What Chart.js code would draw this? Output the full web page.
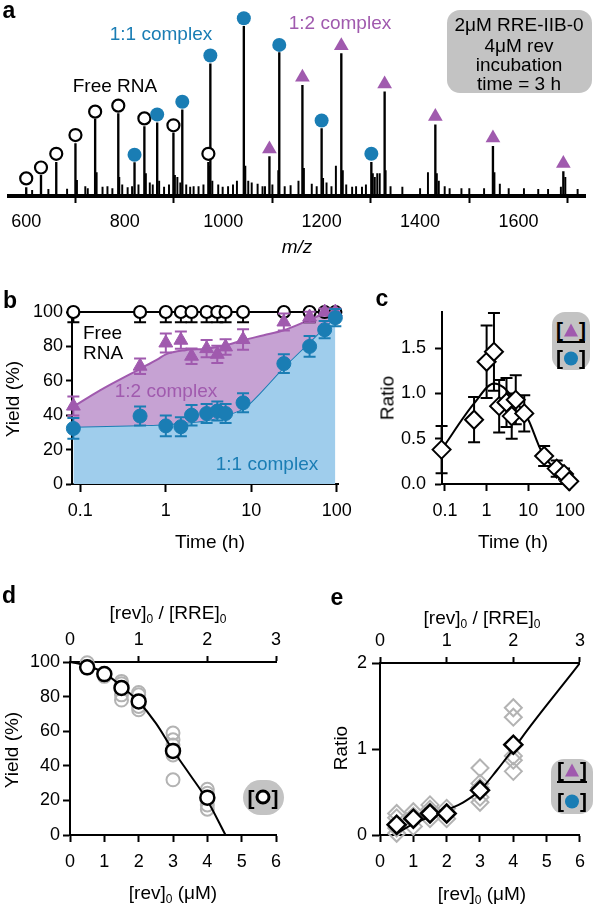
<!DOCTYPE html>
<html>
<head>
<meta charset="utf-8">
<script src="https://cdn.jsdelivr.net/npm/chart.js@4.4.0/dist/chart.umd.min.js"></script>
<style>
  body { margin: 0; background: #fff; width: 594px; height: 904px; position: relative; overflow: hidden;
         font-family: "Liberation Sans", Arial, sans-serif; color: #000; }
  canvas { position: absolute; }
  .t { position: absolute; transform: translate(-50%, -50%); white-space: nowrap; line-height: 1; font-size: 19px; }
  .l { transform: translate(0, -50%); }
  .lbl { font-weight: bold; font-size: 23px; }
  .rot { transform: translate(-50%, -50%) rotate(-90deg); }
  sub { font-size: 12px; vertical-align: -4px; line-height: 0; }
  .box { position: absolute; background: #c3c3c3; border-radius: 13px; }
  .br { font-weight: bold; font-size: 21px; }
  .frac { position: absolute; height: 2px; background: #000; }
  .tri { display: inline-block; width: 0; height: 0; border-left: 7px solid transparent; border-right: 7px solid transparent;
         border-bottom: 13px solid #a05aae; vertical-align: 0px; margin: 0 1px; }
  .dot { display: inline-block; width: 14px; height: 14px; border-radius: 50%; background: #1a7db4; vertical-align: -1px; margin: 0 1px; }
  .ring { display: inline-block; width: 9px; height: 9px; border: 3px solid #000; border-radius: 50%; background: #fff; vertical-align: 0px; margin: 0 1px; }
</style>
</head>
<body>
<canvas id="ca" width="594" height="262" style="left:0;top:0"></canvas>
<canvas id="cb" width="360" height="270" style="left:0;top:290px"></canvas>
<canvas id="cc" width="234" height="270" style="left:360px;top:290px"></canvas>
<canvas id="cd" width="300" height="314" style="left:0;top:590px"></canvas>
<canvas id="ce" width="294" height="314" style="left:300px;top:590px"></canvas>

<!-- panel a text -->
<div class="t lbl" style="left:9px;top:10px">a</div>
<div class="t" style="left:115px;top:85px">Free RNA</div>
<div class="t" style="left:161px;top:33px;color:#1a7db4">1:1 complex</div>
<div class="t" style="left:340px;top:22px;color:#a05aae">1:2 complex</div>
<div class="box" style="left:447px;top:10px;width:145px;height:83px"></div>
<div class="t" style="left:519px;top:24px">2μM RRE-IIB-0</div>
<div class="t" style="left:519px;top:45px">4μM rev</div>
<div class="t" style="left:519px;top:64px">incubation</div>
<div class="t" style="left:519px;top:83px">time = 3 h</div>
<div class="t" style="left:297px;top:246px;font-style:italic">m/z</div>

<!-- panel b text -->
<div class="t lbl" style="left:10px;top:300px">b</div>
<div class="t l" style="left:83px;top:332px">Free</div>
<div class="t l" style="left:83px;top:352px">RNA</div>
<div class="t" style="left:166px;top:390px;color:#a05aae">1:2 complex</div>
<div class="t" style="left:267px;top:463px;color:#1a7db4">1:1 complex</div>
<div class="t rot" style="left:12px;top:399px">Yield (%)</div>
<div class="t" style="left:210px;top:541px">Time (h)</div>

<!-- panel c text -->
<div class="t lbl" style="left:382px;top:298px">c</div>
<div class="t rot" style="left:387px;top:398px">Ratio</div>
<div class="t" style="left:513px;top:541px">Time (h)</div>
<div class="box" style="left:552px;top:312px;width:38px;height:58px"></div>
<div class="t br" style="left:571px;top:329px">[<span class="tri"></span>]</div>
<div class="frac" style="left:557px;top:341px;width:28px"></div>
<div class="t br" style="left:571px;top:357px">[<span class="dot"></span>]</div>

<!-- panel d text -->
<div class="t lbl" style="left:9px;top:595px">d</div>
<div class="t" style="left:168px;top:612px">[rev]<sub>0</sub> / [RRE]<sub>0</sub></div>
<div class="t" style="left:173px;top:892px">[rev]<sub>0</sub> (μM)</div>
<div class="t rot" style="left:11px;top:750px">Yield (%)</div>
<div class="box" style="left:243px;top:780px;width:41px;height:35px;border-radius:18px"></div>
<div class="t br" style="left:263px;top:797px">[<span class="ring"></span>]</div>

<!-- panel e text -->
<div class="t lbl" style="left:337px;top:597px">e</div>
<div class="t" style="left:482px;top:617px">[rev]<sub>0</sub> / [RRE]<sub>0</sub></div>
<div class="t" style="left:482px;top:893px">[rev]<sub>0</sub> (μM)</div>
<div class="t rot" style="left:340px;top:748px">Ratio</div>
<div class="box" style="left:551px;top:759px;width:42px;height:55px"></div>
<div class="t br" style="left:572px;top:769px">[<span class="tri"></span>]</div>
<div class="frac" style="left:557px;top:781px;width:30px"></div>
<div class="t br" style="left:572px;top:800px">[<span class="dot"></span>]</div>

<script>
// ---------- data: panel a (mass spectrum) ----------
const aTicks = [600, 800, 1000, 1200, 1400, 1600];
const freeMz = [600, 630, 661, 700, 740, 787, 840, 899, 970];
const freePeak = [4.5, 11, 18, 28, 41, 44, 37, 33.5, 18];
const freeMark = [9.4, 15.2, 22.5, 32.5, 45.0, 48.2, 41.4, 37.7, 22.5];
const oneOneMz = [820, 866, 917, 974, 1042, 1114, 1200, 1301];
const oneOnePeak = [17.8, 39, 46, 70.5, 90.5, 76.5, 36, 18];
const oneOneMark = [22.0, 43.5, 50.3, 74.9, 94.8, 80.6, 40.3, 22.5];
const oneTwoMz = [1094, 1161, 1240, 1328, 1431, 1548, 1691];
const oneTwoPeak = [21, 59, 76, 55.5, 38, 26.5, 13];
const oneTwoMark = [25.1, 63.4, 80.1, 59.7, 42.4, 30.9, 17.3];
const minorMz = [612, 645, 683, 703, 720, 725, 743, 755, 765, 775, 789, 795, 806, 815, 828, 843, 851, 857, 870, 880,
  890, 902, 907, 913, 925, 933, 940, 950, 960, 973, 978, 990, 999, 1010, 1020, 1028, 1045, 1051, 1058, 1070,
  1080, 1085, 1100, 1112, 1125, 1137, 1153, 1164, 1180, 1190, 1203, 1210, 1220, 1229, 1243, 1250, 1262, 1270,
  1282, 1290, 1304, 1308, 1313, 1318, 1330, 1340, 1364, 1400, 1416, 1434, 1438, 1450, 1460, 1484, 1500, 1530,
  1551, 1562, 1580, 1611, 1640, 1660, 1686, 1695, 1720];
const minorY = [3, 3.5, 3.7, 8.4, 5, 4, 12.5, 4.7, 5, 4, 10, 6, 4.5, 5, 6, 12, 7, 6, 8, 4.7,
  6, 11, 10, 7, 6, 4.7, 5, 5, 6, 16, 8, 6, 4.7, 5, 6, 8, 16, 8, 7, 6.3,
  5, 5, 6, 13.6, 5, 5.6, 8, 14.7, 6.3, 5, 9.4, 7, 5, 16, 13.6, 6, 4.7, 5,
  4.7, 6, 12, 10, 12, 12, 13.6, 5, 4.7, 4, 12.5, 12, 8, 5, 4, 4, 4, 4,
  12.5, 6.3, 4, 4, 3.5, 3.5, 4.7, 10, 3.5];

// ---------- data: panel b (yield vs time) ----------
const timeTicks = [0.1, 1, 10, 100];
const bTimes = [0.083, 0.5, 1, 1.5, 2, 3, 4, 5, 8, 24, 48, 72, 96];
const bFree = [100, 100, 100, 100, 100, 100, 100, 100, 100, 100, 100, 100, 100];
const bFreeErr = [6, 6, 6, 6, 6, 6, 6, 6, 6, 0, 6, 0, 0];
const bTri = [45.3, 68.5, 82, 83.6, 74.3, 78.7, 75.4, 79.7, 84, 94.2, 97.1, 100, 100];
const bTriErr = [5.5, 4.5, 5.5, 5, 4.5, 5, 5, 4.5, 6, 5, 3, 2, 2];
const bCirc = [32.3, 39.5, 33.8, 33.3, 40, 41, 42.4, 41, 47.2, 70, 80, 89.7, 96.7];
const bCircErr = [6, 5.5, 6, 5.5, 6, 5.5, 5.5, 5.5, 5.5, 5.5, 6, 5, 5];
const bTriFitT = [0.083, 0.17, 0.5, 0.8, 1, 1.7, 3, 5, 8, 14, 24, 48, 72, 96];
const bTriFitY = [45, 54.5, 67, 72.5, 75.4, 77.8, 78.7, 80.7, 83.6, 86.5, 89.4, 95.5, 99, 100];
const bCircFitT = [0.083, 0.5, 1, 3, 5, 8, 10, 24, 48, 72, 96];
const bCircFitY = [33.3, 34.2, 34.8, 37, 40, 43.9, 47.8, 68, 82.6, 91.3, 97];

// ---------- data: panel c (ratio vs time) ----------
const cRatio = [0.38, 0.71, 1.35, 1.46, 0.86, 0.9, 0.75, 0.93, 0.78, 0.31, 0.17, 0.11, 0.03];
const cErr = [0.26, 0.25, 0.4, 0.43, 0.29, 0.27, 0.25, 0.27, 0.2, 0.11, 0.09, 0.06, 0.02];
const cFitT = [0.083, 0.5, 1.5, 2.5, 5, 10, 20, 41, 96];
const cFitY = [0.38, 0.89, 1.11, 1.07, 0.91, 0.71, 0.375, 0.17, 0.0];
const cYTicks = [0, 0.5, 1, 1.5];

// ---------- data: panel d (free RNA yield vs rev) ----------
const revConc = [0.5, 1, 1.5, 2, 3, 4];
const dMean = [96.9, 93, 85, 77.2, 48.6, 21.6];
const dRepX = [0.5, 0.5, 1, 1.5, 1.5, 1.5, 1.5, 2, 2, 2, 2, 3, 3, 3, 3, 3, 4, 4, 4, 4];
const dRepY = [99.6, 96.5, 91.7, 88.8, 87.5, 81, 78, 82.4, 81, 74.3, 72.4, 58.9, 55, 52, 46.3, 31.9, 26.4, 24.1, 17.4, 14.9];
const dFitX = [0, 0.5, 1, 1.5, 2, 2.5, 3, 3.5, 4, 4.53];
const dFitY = [100, 97.8, 93.6, 86, 77, 64.7, 49, 34.7, 20, 0];

// ---------- data: panel e (ratio vs rev) ----------
const eMean = [0.12, 0.19, 0.25, 0.25, 0.52, 1.05];
const eRepX = [0.5, 0.5, 0.5, 0.5, 1, 1, 1, 1.5, 1.5, 1.5, 2, 2, 2, 3, 3, 3, 3, 3, 4, 4, 4, 4, 4];
const eRepY = [0.25, 0.2, 0.08, 0.02, 0.27, 0.22, 0.1, 0.35, 0.3, 0.19, 0.31, 0.25, 0.19, 0.78, 0.6, 0.55, 0.44, 0.38, 1.48, 1.37, 0.92, 0.87, 0.74];
const eFitX = [0.5, 1, 1.5, 2, 2.5, 3, 3.5, 4, 4.5, 5, 5.5, 6];
const eFitY = [0.02, 0.13, 0.21, 0.29, 0.38, 0.52, 0.75, 1.0, 1.26, 1.51, 1.755, 2.0];

const BLUE = '#1a7db4', PURPLE = '#a05aae';
const BLUE_FILL = '#9fcdec', PURPLE_FILL = '#c6a2d3', GREY = '#b3b3b3';

function pts(xs, ys) { return xs.map((x, i) => ({ x: x, y: ys[i] })); }

Chart.defaults.font.family = '"Liberation Sans", Arial, sans-serif';
Chart.defaults.font.size = 18;
Chart.defaults.color = '#000';
Chart.defaults.animation = false;
Chart.defaults.responsive = false;
Chart.defaults.plugins.legend.display = false;
Chart.defaults.plugins.tooltip.enabled = false;

// error bars drawn just before their own dataset
Chart.register({
  id: 'errorBars',
  beforeDatasetDraw(chart, args) {
    const ds = chart.data.datasets[args.index];
    if (!ds.errPlus && !ds.errMinus) return;
    const ctx = chart.ctx;
    const xs = chart.scales[args.meta.xAxisID], ys = chart.scales[args.meta.yAxisID];
    ctx.save();
    ctx.strokeStyle = ds.errColor;
    ctx.lineWidth = 2;
    ds.data.forEach((p, i) => {
      const up = ds.errPlus ? ds.errPlus[i] : 0, dn = ds.errMinus ? ds.errMinus[i] : 0;
      if (!up && !dn) return;
      const x = xs.getPixelForValue(p.x);
      const y1 = ys.getPixelForValue(p.y + up), y2 = ys.getPixelForValue(p.y - dn);
      ctx.beginPath();
      ctx.moveTo(x, y1); ctx.lineTo(x, y2);
      if (up) { ctx.moveTo(x - 6, y1); ctx.lineTo(x + 6, y1); }
      if (dn) { ctx.moveTo(x - 6, y2); ctx.lineTo(x + 6, y2); }
      ctx.stroke();
    });
    ctx.restore();
  }
});

function axis(tl, pad, size, extra) {
  return Object.assign({
    grid: { display: true, drawOnChartArea: false, drawTicks: true, tickLength: tl, tickWidth: 2, tickColor: '#000' },
    border: { display: true, color: '#000', width: 2 },
    ticks: { padding: pad, maxRotation: 0, autoSkip: false },
    afterFit: s => { if (s.isHorizontal()) s.height = size; else s.width = size; }
  }, extra);
}
function fixTicks(vals) { return s => { s.ticks = vals.map(v => ({ value: v })); }; }

// ---------------- a ----------------
new Chart('ca', {
  type: 'bar',
  data: {
    datasets: [
      { type: 'line', showLine: false, data: pts(oneOneMz, oneOneMark), pointStyle: 'circle', pointRadius: 7,
        pointBackgroundColor: BLUE, pointBorderWidth: 0, clip: false },
      { type: 'line', showLine: false, data: pts(oneTwoMz, oneTwoMark), pointStyle: 'triangle', pointRadius: 8.5,
        pointBackgroundColor: PURPLE, pointBorderWidth: 0, clip: false },
      { type: 'line', showLine: false, data: pts(freeMz, freeMark), pointStyle: 'circle', pointRadius: 6,
        pointBackgroundColor: '#fff', pointBorderColor: '#000', pointBorderWidth: 2.2, clip: false },
      { data: pts(freeMz.concat(oneOneMz, oneTwoMz), freePeak.concat(oneOnePeak, oneTwoPeak)),
        backgroundColor: '#000', barThickness: 1.7, grouped: false },
      { data: pts(minorMz, minorY), backgroundColor: '#000', barThickness: 1.3, grouped: false }
    ]
  },
  options: {
    layout: { padding: { top: 5, right: 1, left: 0, bottom: 0 } },
    scales: {
      x: axis(7, 8, 66, { type: 'linear', min: 564, max: 1736, offset: false,
        afterBuildTicks: fixTicks(aTicks), ticks: { padding: 8, maxRotation: 0, callback: v => String(v) },
        border: { display: true, color: '#000', width: 4 } }),
      y: { display: false, min: 0, max: 100 }
    }
  }
});

// ---------------- b ----------------
new Chart('cb', {
  type: 'line',
  data: {
    datasets: [
      { data: pts(bTimes, bCirc), showLine: false, pointStyle: 'circle', pointRadius: 7, pointBackgroundColor: BLUE,
        pointBorderColor: BLUE, errPlus: bCircErr, errMinus: bCircErr, errColor: BLUE, clip: false },
      { data: pts(bTimes, bTri), showLine: false, pointStyle: 'triangle', pointRadius: 8, pointBackgroundColor: PURPLE,
        pointBorderColor: PURPLE, errPlus: bTriErr, errMinus: bTriErr, errColor: PURPLE, clip: false },
      { data: pts(bTimes, bFree), borderColor: '#000', borderWidth: 1.8, pointRadius: 6, pointBackgroundColor: '#fff',
        pointBorderColor: '#000', pointBorderWidth: 2.2, errMinus: bFreeErr, errColor: '#000', clip: false },
      { data: pts(bTriFitT, bTriFitY), borderColor: PURPLE, borderWidth: 2, pointRadius: 0, fill: 4,
        backgroundColor: PURPLE_FILL, cubicInterpolationMode: 'monotone' },
      { data: pts(bCircFitT, bCircFitY), borderColor: BLUE, borderWidth: 2, pointRadius: 0, fill: 'origin',
        backgroundColor: BLUE_FILL, cubicInterpolationMode: 'monotone' }
    ]
  },
  options: {
    layout: { padding: { top: 22, right: 18, left: 0, bottom: 0 } },
    scales: {
      x: axis(8, 8, 76, { type: 'logarithmic', min: 0.08, max: 105, afterBuildTicks: fixTicks(timeTicks),
        ticks: { padding: 8, maxRotation: 0, callback: v => String(v) } }),
      y: axis(6, 3, 72, { min: 0, max: 100, ticks: { stepSize: 20, padding: 3 } })
    }
  }
});

// ---------------- c ----------------
new Chart('cc', {
  type: 'line',
  data: {
    datasets: [
      { data: pts(bTimes, cRatio), showLine: false, pointStyle: 'rectRot', pointRadius: 9, pointBackgroundColor: '#fff',
        pointBorderColor: '#000', pointBorderWidth: 2, errPlus: cErr, errMinus: cErr, errColor: '#000', clip: false },
      { data: pts(cFitT, cFitY), borderColor: '#000', borderWidth: 2, pointRadius: 0, cubicInterpolationMode: 'monotone' }
    ]
  },
  options: {
    layout: { padding: { top: 22, right: 17, left: 0, bottom: 0 } },
    scales: {
      x: axis(7, 9, 76, { type: 'logarithmic', min: 0.085, max: 100, afterBuildTicks: fixTicks(timeTicks),
        ticks: { padding: 9, maxRotation: 0, callback: v => String(v) } }),
      y: axis(7, 9, 82, { min: 0, max: 1.9, afterBuildTicks: fixTicks(cYTicks),
        ticks: { padding: 9, callback: v => v.toFixed(1) } })
    }
  }
});

// ---------------- d ----------------
new Chart('cd', {
  type: 'line',
  data: {
    datasets: [
      { data: pts(revConc, dMean), showLine: false, pointStyle: 'circle', pointRadius: 7, pointBackgroundColor: '#fff',
        pointBorderColor: '#000', pointBorderWidth: 2.5, clip: false },
      { data: pts(dFitX, dFitY), borderColor: '#000', borderWidth: 2, pointRadius: 0, cubicInterpolationMode: 'monotone' },
      { data: pts(dRepX, dRepY), showLine: false, pointStyle: 'circle', pointRadius: 6.5, pointBackgroundColor: 'rgba(0,0,0,0)',
        pointBorderColor: GREY, pointBorderWidth: 2, clip: false }
    ]
  },
  options: {
    layout: { padding: { top: 0, right: 24, left: 0, bottom: 0 } },
    scales: {
      x: axis(7, 9, 69, { type: 'linear', min: 0, max: 6, ticks: { stepSize: 1, padding: 9 } }),
      x2: axis(6, 5, 72, { type: 'linear', position: 'top', min: 0, max: 3, ticks: { stepSize: 1, padding: 5 } }),
      y: axis(7, 3, 70, { min: 0, max: 100, ticks: { stepSize: 20, padding: 3 } })
    }
  }
});

// ---------------- e ----------------
new Chart('ce', {
  type: 'line',
  data: {
    datasets: [
      { data: pts(revConc, eMean), showLine: false, pointStyle: 'rectRot', pointRadius: 9, pointBackgroundColor: '#fff',
        pointBorderColor: '#000', pointBorderWidth: 2.5, clip: false },
      { data: pts(eFitX, eFitY), borderColor: '#000', borderWidth: 2, pointRadius: 0, cubicInterpolationMode: 'monotone' },
      { data: pts(eRepX, eRepY), showLine: false, pointStyle: 'rectRot', pointRadius: 8.5, pointBackgroundColor: 'rgba(0,0,0,0)',
        pointBorderColor: GREY, pointBorderWidth: 2, clip: false }
    ]
  },
  options: {
    layout: { padding: { top: 0, right: 7, left: 0, bottom: 0 } },
    scales: {
      x: axis(7, 9, 69, { type: 'linear', min: 0, max: 6, ticks: { stepSize: 1, padding: 9 } }),
      x2: axis(6, 5, 73, { type: 'linear', position: 'top', min: 0, max: 3, ticks: { stepSize: 1, padding: 5 } }),
      y: axis(8, 5, 80, { min: 0, max: 2, ticks: { stepSize: 1, padding: 5 } })
    }
  }
});
</script>
</body>
</html>
